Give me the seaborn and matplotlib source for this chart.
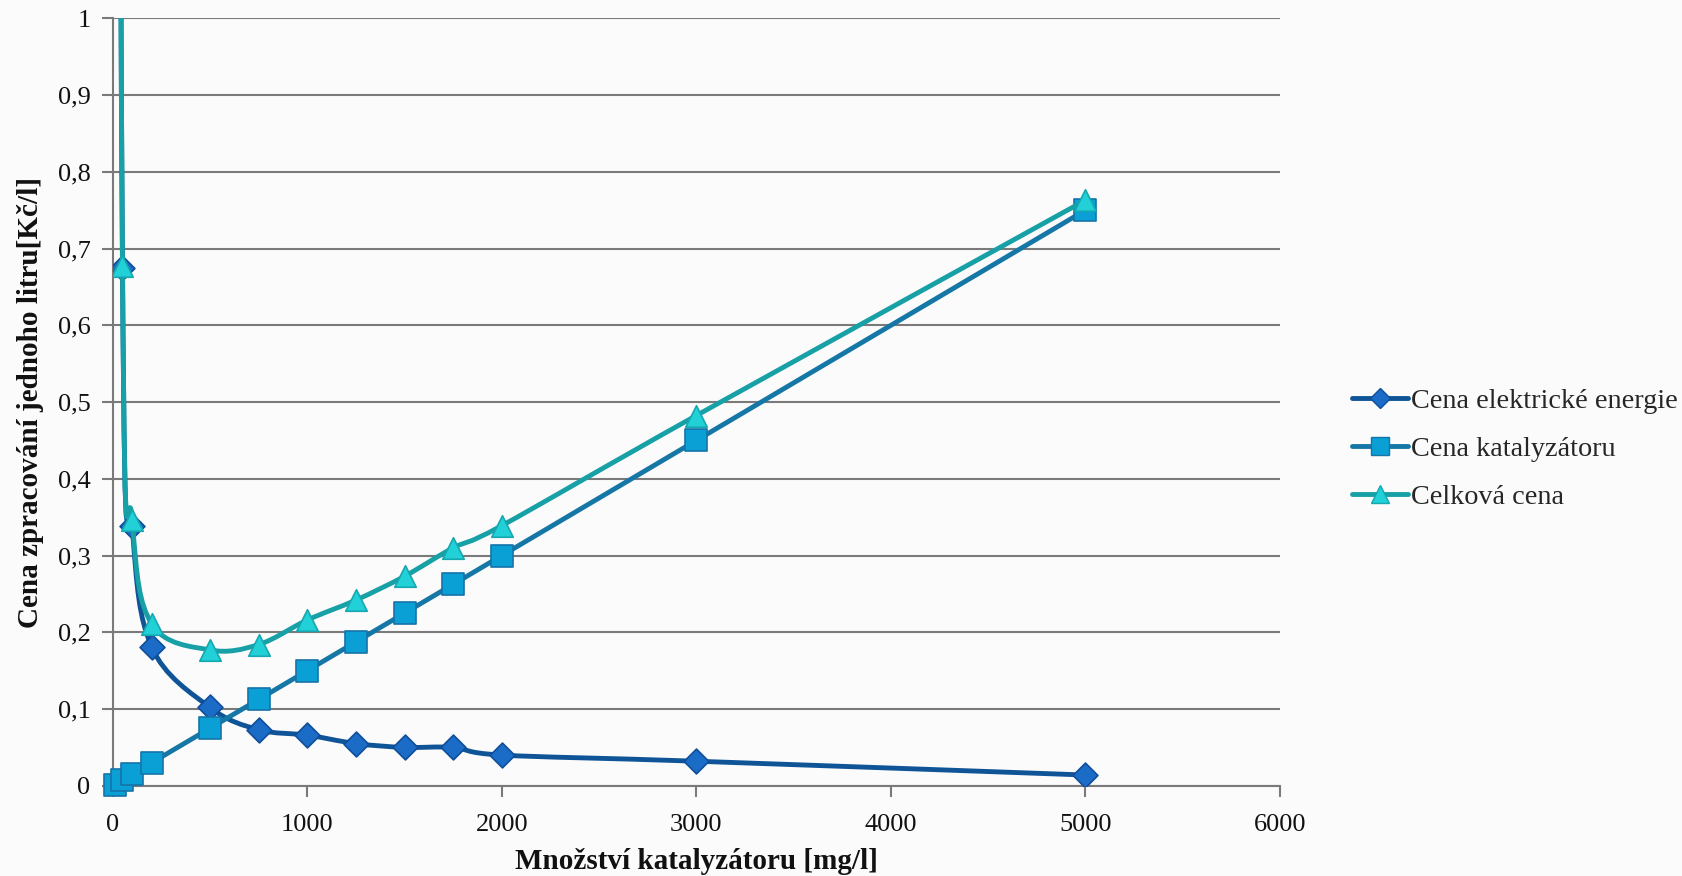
import numpy as np
import pandas as pd
import matplotlib
matplotlib.use("Agg")
import matplotlib.pyplot as plt
from matplotlib.path import Path
from matplotlib.patches import PathPatch
from matplotlib.lines import Line2D
from matplotlib.ticker import FuncFormatter
import seaborn as sns

# ---- data ----
amount = [10, 50, 100, 200, 500, 750, 1000, 1250, 1500, 1750, 2000, 3000, 5000]
cena_energie = [3.37, 0.675, 0.338, 0.181, 0.102, 0.073, 0.066, 0.055, 0.050, 0.050, 0.040, 0.032, 0.014]
cena_katalyzatoru = [0.0015, 0.0075, 0.015, 0.03, 0.075, 0.1125, 0.15, 0.1875, 0.225, 0.2625, 0.30, 0.45, 0.75]
celkova_cena = [3.37, 0.677, 0.346, 0.211, 0.177, 0.184, 0.216, 0.242, 0.273, 0.310, 0.339, 0.4825, 0.763]

series_names = ["Cena elektrické energie", "Cena katalyzátoru", "Celková cena"]
x_ticks = [0, 1000, 2000, 3000, 4000, 5000, 6000]
y_ticks = [0, 0.1, 0.2, 0.3, 0.4, 0.5, 0.6, 0.7, 0.8, 0.9, 1.0]
x_label = "Množství katalyzátoru [mg/l]"
y_label = "Cena zpracování jednoho litru[Kč/l]"

line_colors = ["#0E5496", "#1577A6", "#17A0A6"]
face_colors = ["#1A6CC6", "#0AA0D6", "#22D0D8"]
edge_colors = ["#104E9A", "#1574A8", "#15A8B0"]
markers = ["D", "s", "^"]
msizes = [160, 240, 240]

sns.set_theme(style="white")
plt.rcParams["font.family"] = ["Liberation Serif", "DejaVu Serif"]

fig = plt.figure(figsize=(16.83, 8.76), dpi=100, facecolor="#FBFBFB")
ax = fig.add_axes([0.067, 0.103, 0.6935, 0.876])
ax.set_facecolor("#FBFBFB")

df = pd.DataFrame({"x": amount * 3,
                   "y": cena_energie + cena_katalyzatoru + celkova_cena,
                   "s": sum([[n] * len(amount) for n in series_names], [])})


def smooth_path(xs, ys):
    pts = np.column_stack([xs, ys]).astype(float)
    n = len(pts)
    verts = [pts[0]]
    codes = [Path.MOVETO]
    for i in range(n - 1):
        p0 = pts[i - 1] if i > 0 else pts[i]
        p1 = pts[i]
        p2 = pts[i + 1]
        p3 = pts[i + 2] if i + 2 < n else pts[i + 1]
        c1 = p1 + (p2 - p0) / 6.0
        c2 = p2 - (p3 - p1) / 6.0
        verts += [c1, c2, p2]
        codes += [Path.CURVE4] * 3
    return Path(verts, codes)


for i, name in enumerate(series_names):
    sub = df[df["s"] == name]
    patch = PathPatch(smooth_path(sub["x"].values, sub["y"].values), facecolor="none",
                      edgecolor=line_colors[i], lw=3.5, zorder=3 + i * 2,
                      capstyle="round", joinstyle="round")
    ax.add_patch(patch)
    sns.scatterplot(data=sub, x="x", y="y", marker=markers[i], s=msizes[i],
                    color=face_colors[i], edgecolor=edge_colors[i], linewidth=1.2,
                    ax=ax, zorder=4 + i * 2, clip_on=(i != 1), legend=False)

ax.set_xlim(0, 6000)
ax.set_ylim(0, 1)
ax.set_xticks(x_ticks)
ax.set_yticks(y_ticks)
ax.yaxis.set_major_formatter(FuncFormatter(lambda v, p: ("%g" % round(v, 2)).replace(".", ",")))
ax.grid(axis="y", color="#7A7A7A", lw=1.5, zorder=1)
ax.grid(axis="x", visible=False)
for side in ["top", "right"]:
    ax.spines[side].set_visible(False)
for side in ["left", "bottom"]:
    ax.spines[side].set_color("#7A7A7A")
    ax.spines[side].set_linewidth(1.5)
ax.tick_params(axis="y", which="major", direction="out", length=8, width=1.5,
               color="#7A7A7A", labelsize=19, pad=8, left=True)
ax.tick_params(axis="x", which="major", direction="out", length=8, width=1.5,
               color="#7A7A7A", labelsize=19, pad=12, bottom=True)
for t in ax.get_xticklabels() + ax.get_yticklabels():
    t.set_color("#111111")

ax.set_xlabel(x_label, fontsize=21, fontweight="bold", labelpad=9, color="#111111")
ax.set_ylabel(y_label, fontsize=21, fontweight="bold", labelpad=10, color="#111111")

handles = [Line2D([0], [0], color=line_colors[i], lw=3.5, marker=markers[i],
                  markersize=[10, 13, 13][i], markerfacecolor=face_colors[i],
                  markeredgecolor=edge_colors[i]) for i in range(3)]
leg = fig.legend(handles, series_names, loc="center left", bbox_to_anchor=(0.788, 0.487),
                 frameon=False, fontsize=20.3, handlelength=2.0, handletextpad=0.1,
                 labelspacing=0.79)

fig.savefig("out.png", dpi=100, facecolor=fig.get_facecolor())
